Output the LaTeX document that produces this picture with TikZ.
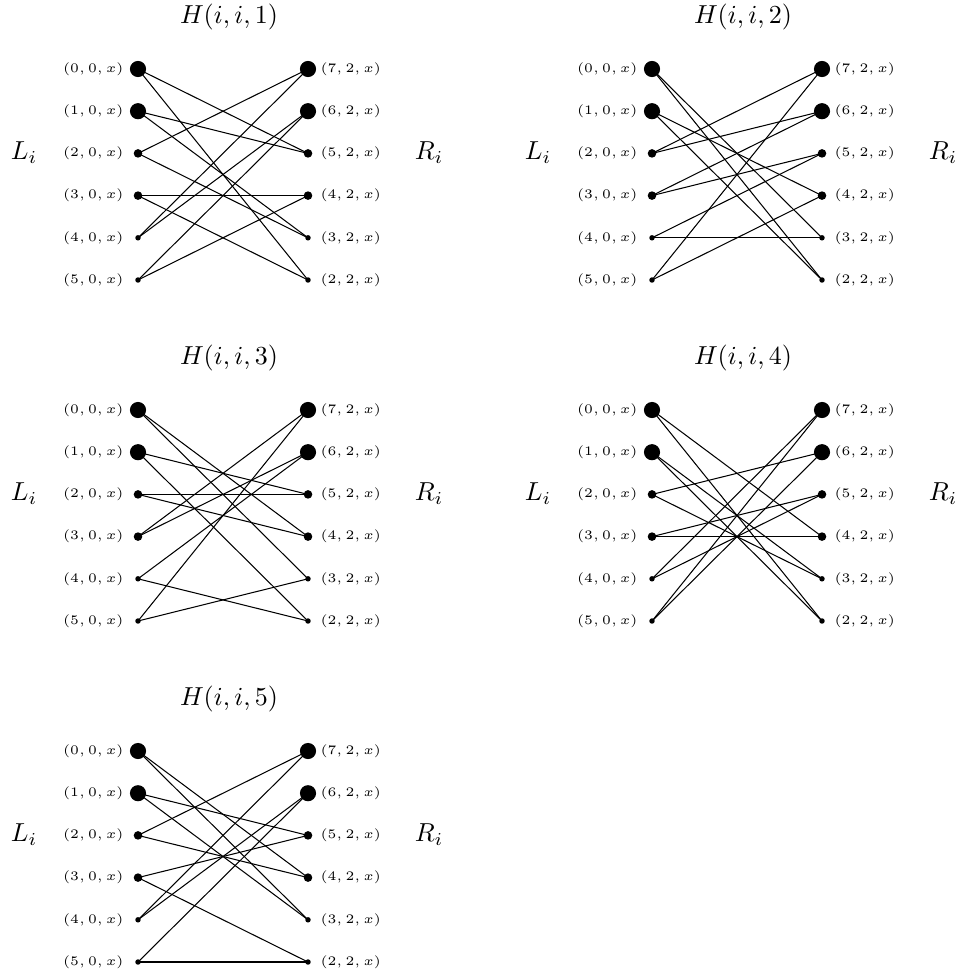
\documentclass[tikz,border=0pt]{standalone}
\begin{document}
\begin{tikzpicture}[x=0.3846pt,y=-0.3846pt,
  big/.style={circle,fill,inner sep=0pt,minimum size=6.2pt},
  med/.style={circle,fill,inner sep=0pt,minimum size=3.3pt},
  sml/.style={circle,fill,inner sep=0pt,minimum size=2.1pt},
  lab/.style={font=\fontsize{5.4}{6}\selectfont,inner sep=0pt},
  edge/.style={line width=0.4pt}]
\useasboundingbox (0,0) rectangle (961,974);
\newcommand\mypanel[4]{%
\begin{scope}[shift={(#2,#3)}]
\node (T#1) at (229,17) {$H(i,i,#1)$};
\node (Li#1) at (24,153) {$L_i$};
\node (Ri#1) at (429,153) {$R_i$};
\foreach \r/\st in {0/big,1/big,2/med,3/med,4/sml,5/sml}{
  \pgfmathtruncatemacro\rl{7-\r}
  \node[\st] (L#1r\r) at (138,{69+42.2*\r}) {};
  \node[\st] (R#1r\rl) at (308,{69+42.2*\r}) {};
  \node[lab,anchor=east] (LL#1r\r) at (124,{69+42.2*\r}) {$(\r,0,x)$};
  \node[lab,anchor=west] (RL#1r\rl) at (320,{69+42.2*\r}) {$(\rl,2,x)$};
}
\foreach \a/\b in {#4} \draw[edge] (L#1r\a.center) -- (R#1r\b.center);
\end{scope}}
\mypanel{1}{0}{0}{0/5,0/2,1/5,1/3,2/7,2/3,3/4,3/2,4/7,4/6,5/6,5/4}
\mypanel{2}{514}{0}{0/3,0/2,1/4,1/2,2/7,2/6,3/6,3/5,4/5,4/3,5/7,5/4}
\mypanel{3}{0}{341}{0/4,0/3,1/5,1/2,2/5,2/4,3/7,3/6,4/6,4/2,5/7,5/3}
\mypanel{4}{514}{341}{0/4,0/2,1/3,1/2,2/6,2/3,3/5,3/4,4/7,4/5,5/7,5/6}
\mypanel{5}{0}{682}{0/4,0/3,1/5,1/3,2/7,2/4,3/5,3/2,4/7,4/6,5/6,5/2}
\end{tikzpicture}
\end{document}
